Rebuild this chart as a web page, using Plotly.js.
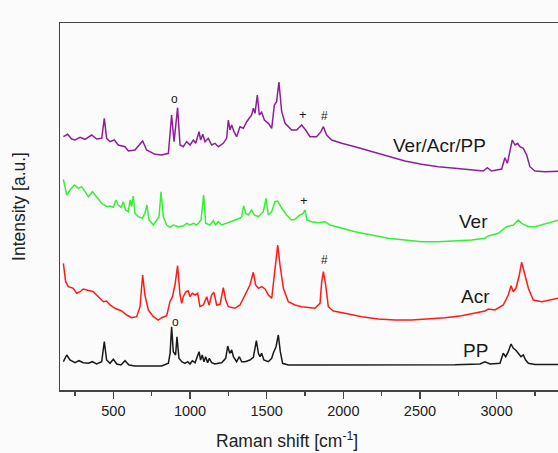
<!DOCTYPE html>
<html>
<head>
<meta charset="utf-8">
<script src="https://cdn.plot.ly/plotly-3.0.1.min.js"></script>
<style>
html, body { margin:0; padding:0; overflow:hidden; background:#fbfbfb; }
#chart { width:600px; height:453px; }
</style>
</head>
<body>
<div id="chart"></div>
<script>
// Raman shift (cm-1) and stacked intensities (a.u., offset included as in the figure)
const purpleX = [174,202,228,250,283,315,359,391,424,441,456,478,506,532,576,598,641,691,717,772,815,859,880,896,919,935,956,978,1000,1022,1037,1059,1069,1083,1098,1119,1141,1163,1185,1217,1239,1250,1261,1272,1287,1304,1326,1348,1370,1402,1413,1424,1439,1452,1467,1485,1511,1533,1550,1565,1580,1598,1620,1663,1696,1728,1754,1783,1826,1854,1870,1891,1924,1989,2076,2185,2293,2402,2511,2620,2728,2837,2913,2939,2967,3033,3054,3070,3087,3102,3120,3137,3152,3174,3196,3217,3250,3315,3420];
const purpleY = [253.3,255.7,251,250,252.7,250.7,255,251,251.7,271.7,251.7,248.3,250,245,243.3,239,240,249,240,235.7,235,236.7,275,248.3,282.3,245,243.3,248.3,245,250,246.7,258.3,250,255.7,248.3,251.7,245,246.7,243.3,246.7,251.7,270,260,265,258.3,253.3,263.3,261.7,268.3,275,281.7,276.7,295,275,277.7,270,266.7,261.7,285,288.3,308,278.3,266.7,260,260,265,260,253.3,253.3,258.3,263.3,255,250,246.7,243.3,238.3,233.3,229,225.7,223.3,221.7,220,219,222.3,219,221,232.3,226.7,240,250,245,246.7,243.3,241.7,235,223.3,219,218.3,219];

const greenX = [174,196,217,246,272,293,315,337,363,391,424,456,478,500,517,532,550,565,580,598,609,619,630,641,663,689,706,719,733,761,783,798,811,826,848,869,891,924,956,978,1000,1022,1043,1072,1089,1102,1130,1152,1167,1185,1206,1239,1272,1304,1326,1337,1350,1363,1380,1402,1420,1446,1478,1496,1511,1533,1554,1572,1598,1630,1663,1685,1717,1739,1750,1763,1793,1837,1880,1913,1967,2076,2185,2293,2402,2511,2620,2728,2837,2924,2946,3011,3065,3109,3141,3163,3207,3250,3315,3420];
const greenY = [210.7,195,200,205,201.7,203.3,198.3,193.3,198.3,193.3,186.7,183.3,184,182.7,190,185,182.7,188.3,180,178.3,190,183.3,194,176.7,173.3,171.7,176.7,185,170,165,170,173.3,198.3,173.3,165,162.7,165,163.3,164,166.7,165,166.7,165,170,195,166.7,165,169.3,165,168.3,165,166.7,168.3,170.7,171.7,173.3,184,176.7,175,180,175,173.3,178.3,191.7,175,178.3,188.3,189,181.7,175,170,170.7,175,176.7,180,170,168.3,167.3,168.3,165,162.7,158.3,155,151.7,150,148.3,148.3,149.3,150,151.7,154,156.7,163.3,165,170,166.7,163.3,163.3,166,170.5];

const redX = [174,189,206,239,261,283,304,337,369,402,435,456,478,511,554,587,619,652,674,691,706,728,761,793,815,848,869,885,902,919,935,946,956,974,989,1000,1015,1033,1050,1065,1087,1109,1124,1141,1156,1174,1196,1217,1233,1250,1293,1326,1348,1370,1391,1413,1428,1446,1467,1489,1511,1533,1550,1565,1572,1587,1609,1641,1685,1728,1772,1815,1848,1859,1870,1885,1902,1935,2011,2120,2228,2337,2446,2554,2663,2772,2859,2924,2946,2989,3043,3076,3094,3109,3126,3148,3163,3185,3207,3239,3293,3420];
const redY = [126.7,108.3,103.3,101.7,96.7,98.3,101,100,98.3,93.3,88.3,89,85,81.7,79,75,72.3,73.3,83.3,115,95,80,73.3,70,72.3,74.3,88.3,93.3,105,124.3,95,86.7,93.3,98.3,99,93.3,96.7,95,96.7,83.3,85,93.3,85,95,97.7,85,85.7,102.3,90,83.3,81.7,85,91.7,98.3,105,117.7,105,101.7,103.3,101,95,91.7,118.3,141.7,145,125,101.7,88.3,85,83.3,82.3,81.7,86.7,108.3,118.3,105,83.3,79,76.7,73.3,71,70,70,71,72.3,74.3,76.7,79,81,80,85,95,104.3,98.3,101.7,115,127.7,115,101.7,90,88.3,92.5];

const blackX = [174,196,217,250,276,304,337,363,391,424,441,456,478,500,522,550,576,602,641,728,815,859,870,880,891,906,915,928,946,967,985,1000,1015,1033,1050,1059,1069,1080,1091,1102,1115,1126,1141,1163,1185,1206,1233,1246,1259,1272,1283,1304,1322,1337,1359,1391,1413,1433,1446,1456,1467,1482,1511,1533,1543,1561,1576,1589,1604,1641,1859,2076,2293,2511,2728,2891,2924,2957,3022,3043,3059,3076,3094,3109,3124,3141,3159,3174,3189,3207,3250,3420];
const blackY = [28.3,35,30,27.3,29.3,27.3,26.7,28.3,26,28.3,48.3,30,26.7,30.7,26,25,29.3,25,24,24,24,26.7,36.7,63.3,38.3,35,53.3,31.7,28.3,26.7,28.3,26,29.3,27.3,33.3,38.3,30,35,28.3,33.3,27.3,31.7,27.3,26,26.7,27.3,31.7,44,36.7,40,33.3,28.3,33.3,28.3,28.3,30,32.7,49.3,36.7,33.3,36.7,30,28.3,31.7,36.7,43.3,55,38.3,26.7,25,25,25,25,25,25.3,26,28.3,26,26.7,36.7,33.3,38.3,46,41.7,40,36.7,33.3,35,30,26.7,25.6,25.6];

const seriesNames = ['Ver/Acr/PP','Ver','Acr','PP'];
const seriesColors = ['#8e1f9c','#33f033','#ff1a1a','#1a1a1a'];
const xTicks = [500,1000,1500,2000,2500,3000];

const xs = [purpleX, greenX, redX, blackX];
const ys = [purpleY, greenY, redY, blackY];

const traces = xs.map((x,i)=>({
  x: x, y: ys[i], type:'scatter', mode:'lines', name: seriesNames[i],
  line:{color: seriesColors[i], width:1.5}, hoverinfo:'skip'
}));

const FONT = 'Liberation Sans, Arial, sans-serif';
const lbl = (text, x, y, size) => ({text:text, x:x, y:y, xref:'x', yref:'y', showarrow:false,
  font:{family:FONT, size:size, color:'#1a1a1a'}});

const layout = {
  width:600, height:453,
  margin:{l:60, r:10, t:23, b:63},
  paper_bgcolor:'#fbfbfb', plot_bgcolor:'#fbfbfb',
  showlegend:false,
  font:{family:FONT, color:'#222'},
  xaxis:{
    range:[152, 3609], showgrid:false, zeroline:false,
    showline:true, linecolor:'#444', linewidth:1.5, mirror:true,
    ticks:'outside', ticklen:7, tickwidth:1.3, tickcolor:'#444',
    tickvals: xTicks, ticktext: xTicks.map(String),
    tickfont:{size:14.5, color:'#222'},
    minor:{dtick:250, tick0:0, ticks:'outside', ticklen:4, tickwidth:1.2, tickcolor:'#444'}
  },
  yaxis:{
    range:[0, 367], showgrid:false, zeroline:false,
    showline:true, linecolor:'#444', linewidth:1.5, mirror:true,
    ticks:'', showticklabels:false,
    title:{text:'Intensity [a.u.]', font:{size:17.5, color:'#222'}, standoff:28}
  },
  annotations:[
    {text:'Raman shift [cm<sup>-1</sup>]', xref:'paper', yref:'paper', x:0.4277, y:-0.136,
     xanchor:'center', yanchor:'middle', showarrow:false, font:{family:FONT, size:17.5, color:'#222'}},
    lbl('Ver/Acr/PP', 2630, 245, 19),
    lbl('Ver', 2846, 168.3, 19),
    lbl('Acr', 2859, 93.3, 19),
    lbl('PP', 2859, 40, 19),
    lbl('o', 897, 291, 12),
    lbl('+', 1735, 276, 13),
    lbl('#', 1876, 274, 12),
    lbl('+', 1745, 189.5, 13),
    lbl('#', 1876, 130, 12),
    lbl('o', 907, 68.5, 12)
  ]
};

Plotly.newPlot('chart', traces, layout, {displayModeBar:false, staticPlot:true});
</script>
</body>
</html>
